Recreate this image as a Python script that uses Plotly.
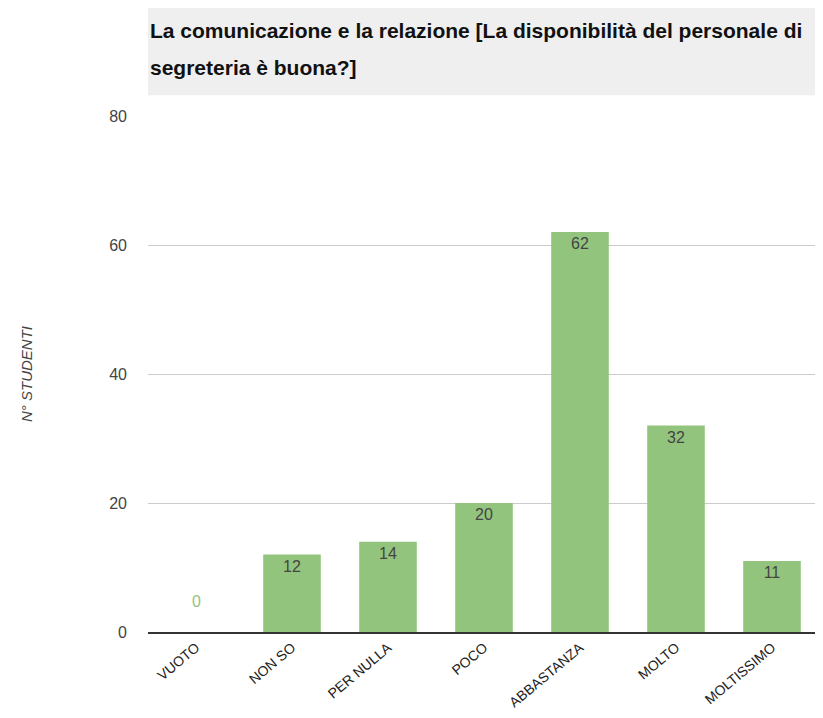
import plotly.graph_objects as go

categories = ["VUOTO", "NON SO", "PER NULLA", "POCO", "ABBASTANZA", "MOLTO", "MOLTISSIMO"]
values = [0, 12, 14, 20, 62, 32, 11]
y_ticks = [0, 20, 40, 60, 80]
title_lines = ["La comunicazione e la relazione [La disponibilità del personale di",
               "segreteria è buona?]"]
y_title = "N° STUDENTI"

BAR = "#93c47d"
FONT = "Liberation Sans, Arial"

fig = go.Figure()
fig.add_trace(go.Bar(
    x=categories, y=values,
    marker=dict(color=BAR, line=dict(width=0)),
    text=[str(v) if v > 0 else "" for v in values],
    textposition="inside", insidetextanchor="end",
    textfont=dict(family=FONT, size=16, color="#444444"),
    textangle=0,
    width=0.6,
    hoverinfo="skip",
))

for c, v in zip(categories, values):
    if v == 0:
        fig.add_annotation(x=c, y=v, text=str(v), showarrow=False, yanchor="bottom",
                           yshift=20, font=dict(family=FONT, size=16, color=BAR))

fig.add_shape(type="rect", xref="paper", yref="paper", x0=0, x1=1.01, y0=1.04, y1=1.23,
              fillcolor="#efefef", line=dict(width=0), layer="below")

for i, line in enumerate(title_lines):
    fig.add_annotation(xref="paper", yref="paper", x=0, y=1.166 - i * 0.072, xanchor="left", yanchor="middle",
                       text="<b>" + line + "</b>", showarrow=False,
                       font=dict(family=FONT, size=21, color="#111111"))

fig.update_layout(
    width=815, height=710,
    margin=dict(l=140, r=3, t=108, b=86),
    paper_bgcolor="white", plot_bgcolor="white",
    showlegend=False,
    bargap=0.4,
    xaxis=dict(tickangle=-40, tickfont=dict(family=FONT, size=14, color="#222222"),
               showgrid=False, showline=True, linecolor="#333333", linewidth=2, ticks=""),
    yaxis=dict(range=[0, 80], tickvals=y_ticks, showgrid=True, gridcolor="#cccccc", gridwidth=1,
               zeroline=False, showline=False, ticks="",
               tickfont=dict(family=FONT, size=16, color="#444444"),
               ticklabelstandoff=20,
               title=dict(text="<i>" + y_title + "</i>", standoff=72,
                          font=dict(family=FONT, size=15, color="#444444"))),
)

fig.write_html("out.html")
